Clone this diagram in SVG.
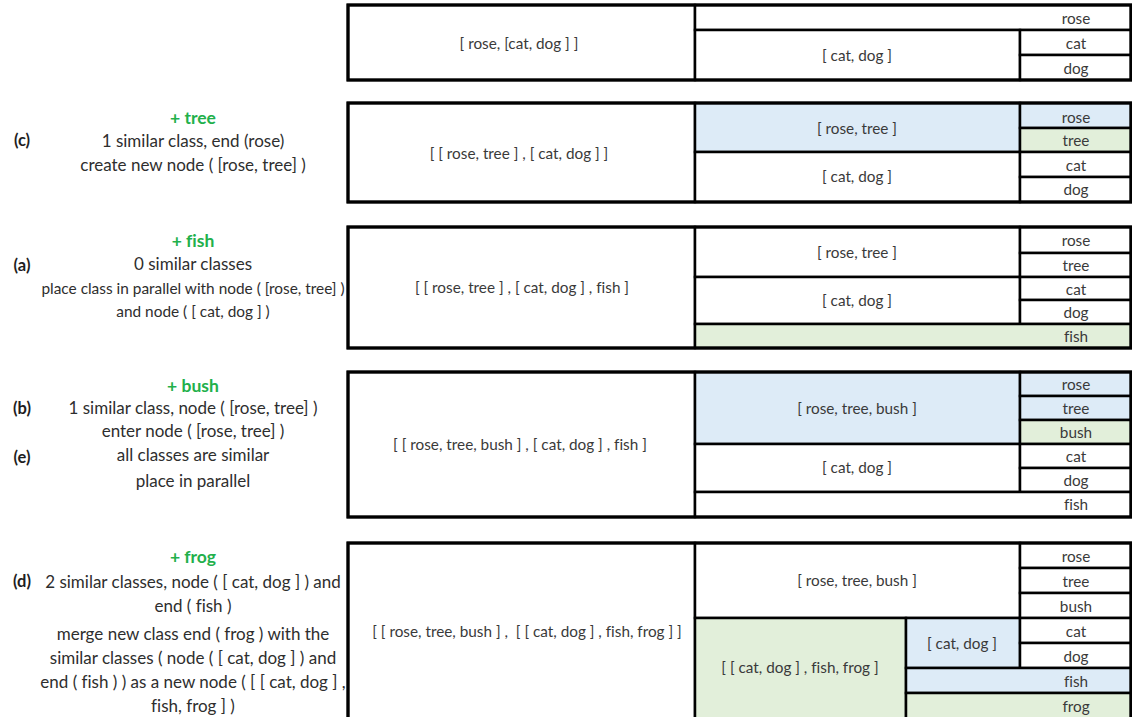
<svg xmlns="http://www.w3.org/2000/svg" width="1132" height="717" viewBox="0 0 1132 717">
<style>
  text { font-variant-ligatures: none; }
  .cell { fill: #ffffff; stroke: #000000; stroke-width: 2.5; }
  .blue { fill: #ddebf7; }
  .green { fill: #e2efda; }
  .frame { fill: none; stroke: #000000; stroke-width: 3.2; }
  .lbl { font-family: Lato, "Open Sans", sans-serif; font-size: 15.3px; fill: #3a3a3a; text-anchor: middle; dominant-baseline: central; }
  .desc { font-family: Lato, "Open Sans", sans-serif; font-size: 17px; fill: #2e2e2e; text-anchor: middle; dominant-baseline: central; }
  .small { font-size: 15.4px; }
  .add { font-family: Lato, "Open Sans", sans-serif; font-size: 17.5px; font-weight: bold; fill: #22b04b; text-anchor: middle; dominant-baseline: central; }
  .tag { font-family: Lato, "Open Sans", sans-serif; font-size: 16.5px; font-weight: bold; fill: #1e1e1e; text-anchor: middle; dominant-baseline: central; }
</style>
<rect width="1132" height="717" fill="#ffffff"/>

<!-- step 0: [ rose, [cat, dog] ] -->
<g id="step0">
  <rect class="cell" x="348" y="5" width="347" height="75"/>
  <rect class="cell" x="695" y="5" width="436" height="25"/>
  <rect class="cell" x="695" y="30" width="325" height="50"/>
  <rect class="cell" x="1020" y="30" width="111" height="25"/>
  <rect class="cell" x="1020" y="55" width="111" height="25"/>
  <rect class="frame" x="348" y="5" width="783" height="75"/>
  <text class="lbl" x="519" y="43">[ rose, [cat, dog ] ]</text>
  <text class="lbl" x="1076" y="18">rose</text>
  <text class="lbl" x="857" y="55">[ cat, dog ]</text>
  <text class="lbl" x="1076" y="43">cat</text>
  <text class="lbl" x="1076" y="68">dog</text>
</g>

<!-- step c: + tree -->
<g id="step-tree-desc">
  <text class="add" x="193" y="117">+ tree</text>
  <text class="tag" x="22" y="140">(c)</text>
  <text class="desc" x="193" y="140">1 similar class, end (rose)</text>
  <text class="desc" x="193" y="164">create new node ( [rose, tree] )</text>
</g>
<g id="step-tree">
  <rect class="cell" x="348" y="103" width="347" height="99"/>
  <rect class="cell blue" x="695" y="103" width="325" height="49"/>
  <rect class="cell" x="695" y="152" width="325" height="50"/>
  <rect class="cell blue" x="1020" y="103" width="111" height="25"/>
  <rect class="cell green" x="1020" y="128" width="111" height="24"/>
  <rect class="cell" x="1020" y="152" width="111" height="25"/>
  <rect class="cell" x="1020" y="177" width="111" height="25"/>
  <rect class="frame" x="348" y="103" width="783" height="99"/>
  <text class="lbl" x="519" y="153">[ [ rose, tree ] , [ cat, dog ] ]</text>
  <text class="lbl" x="857" y="128">[ rose, tree ]</text>
  <text class="lbl" x="857" y="176">[ cat, dog ]</text>
  <text class="lbl" x="1076" y="117">rose</text>
  <text class="lbl" x="1076" y="140">tree</text>
  <text class="lbl" x="1076" y="165">cat</text>
  <text class="lbl" x="1076" y="189">dog</text>
</g>

<!-- step a: + fish -->
<g id="step-fish-desc">
  <text class="add" x="193" y="240">+ fish</text>
  <text class="tag" x="22" y="265">(a)</text>
  <text class="desc" x="193" y="263">0 similar classes</text>
  <text class="desc small" x="193" y="288">place class in parallel with node ( [rose, tree] )</text>
  <text class="desc small" x="193" y="311">and node ( [ cat, dog ] )</text>
</g>
<g id="step-fish">
  <rect class="cell" x="348" y="227" width="347" height="121"/>
  <rect class="cell" x="695" y="227" width="325" height="50"/>
  <rect class="cell" x="695" y="277" width="325" height="47"/>
  <rect class="cell" x="1020" y="227" width="111" height="26"/>
  <rect class="cell" x="1020" y="253" width="111" height="24"/>
  <rect class="cell" x="1020" y="277" width="111" height="23"/>
  <rect class="cell" x="1020" y="300" width="111" height="24"/>
  <rect class="cell green" x="695" y="324" width="436" height="24"/>
  <rect class="frame" x="348" y="227" width="783" height="121"/>
  <text class="lbl" x="522" y="287">[ [ rose, tree ] , [ cat, dog ] , fish ]</text>
  <text class="lbl" x="857" y="252">[ rose, tree ]</text>
  <text class="lbl" x="857" y="300">[ cat, dog ]</text>
  <text class="lbl" x="1076" y="240">rose</text>
  <text class="lbl" x="1076" y="265">tree</text>
  <text class="lbl" x="1076" y="289">cat</text>
  <text class="lbl" x="1076" y="312">dog</text>
  <text class="lbl" x="1076" y="336">fish</text>
</g>

<!-- steps b / e: + bush -->
<g id="step-bush-desc">
  <text class="add" x="193" y="385">+ bush</text>
  <text class="tag" x="22" y="408">(b)</text>
  <text class="desc" x="193" y="407">1 similar class, node ( [rose, tree] )</text>
  <text class="desc" x="193" y="430">enter node ( [rose, tree] )</text>
  <text class="tag" x="22" y="457">(e)</text>
  <text class="desc" x="193" y="454">all classes are similar</text>
  <text class="desc" x="193" y="480">place in parallel</text>
</g>
<g id="step-bush">
  <rect class="cell" x="348" y="372" width="347" height="145"/>
  <rect class="cell blue" x="695" y="372" width="325" height="72"/>
  <rect class="cell" x="695" y="444" width="325" height="48"/>
  <rect class="cell blue" x="1020" y="372" width="111" height="24"/>
  <rect class="cell blue" x="1020" y="396" width="111" height="24"/>
  <rect class="cell green" x="1020" y="420" width="111" height="24"/>
  <rect class="cell" x="1020" y="444" width="111" height="24"/>
  <rect class="cell" x="1020" y="468" width="111" height="24"/>
  <rect class="cell" x="695" y="492" width="436" height="25"/>
  <rect class="frame" x="348" y="372" width="783" height="145"/>
  <text class="lbl" x="520" y="444">[ [ rose, tree, bush ] , [ cat, dog ] , fish ]</text>
  <text class="lbl" x="857" y="408">[ rose, tree, bush ]</text>
  <text class="lbl" x="857" y="467">[ cat, dog ]</text>
  <text class="lbl" x="1076" y="384">rose</text>
  <text class="lbl" x="1076" y="408">tree</text>
  <text class="lbl" x="1076" y="432">bush</text>
  <text class="lbl" x="1076" y="456">cat</text>
  <text class="lbl" x="1076" y="480">dog</text>
  <text class="lbl" x="1076" y="504">fish</text>
</g>

<!-- step d: + frog -->
<g id="step-frog-desc">
  <text class="add" x="193" y="556">+ frog</text>
  <text class="tag" x="22" y="581">(d)</text>
  <text class="desc" x="193" y="581">2 similar classes, node ( [ cat, dog ] ) and</text>
  <text class="desc" x="193" y="605">end ( fish )</text>
  <text class="desc" x="193" y="633">merge new class end ( frog ) with the</text>
  <text class="desc" x="193" y="657">similar classes ( node ( [ cat, dog ] ) and</text>
  <text class="desc" x="193" y="681">end ( fish ) ) as a new node ( [ [ cat, dog ] ,</text>
  <text class="desc" x="193" y="705">fish, frog ] )</text>
</g>
<g id="step-frog">
  <rect class="cell" x="348" y="543" width="347" height="176"/>
  <rect class="cell" x="695" y="543" width="325" height="75"/>
  <rect class="cell green" x="695" y="618" width="211" height="101"/>
  <rect class="cell blue" x="906" y="618" width="114" height="50"/>
  <rect class="cell" x="1020" y="543" width="111" height="25"/>
  <rect class="cell" x="1020" y="568" width="111" height="25"/>
  <rect class="cell" x="1020" y="593" width="111" height="25"/>
  <rect class="cell" x="1020" y="618" width="111" height="25"/>
  <rect class="cell" x="1020" y="643" width="111" height="25"/>
  <rect class="cell blue" x="906" y="668" width="225" height="25"/>
  <rect class="cell green" x="906" y="693" width="225" height="26"/>
  <rect class="frame" x="348" y="543" width="783" height="176"/>
  <text class="lbl" x="527" y="631">[ [ rose, tree, bush ] ,&#160; [ [ cat, dog ] , fish, frog ] ]</text>
  <text class="lbl" x="857" y="580">[ rose, tree, bush ]</text>
  <text class="lbl" x="800" y="667">[ [ cat, dog ] , fish, frog ]</text>
  <text class="lbl" x="962" y="643">[ cat, dog ]</text>
  <text class="lbl" x="1076" y="556">rose</text>
  <text class="lbl" x="1076" y="581">tree</text>
  <text class="lbl" x="1076" y="606">bush</text>
  <text class="lbl" x="1076" y="631">cat</text>
  <text class="lbl" x="1076" y="656">dog</text>
  <text class="lbl" x="1076" y="681">fish</text>
  <text class="lbl" x="1076" y="706">frog</text>
</g>
</svg>
